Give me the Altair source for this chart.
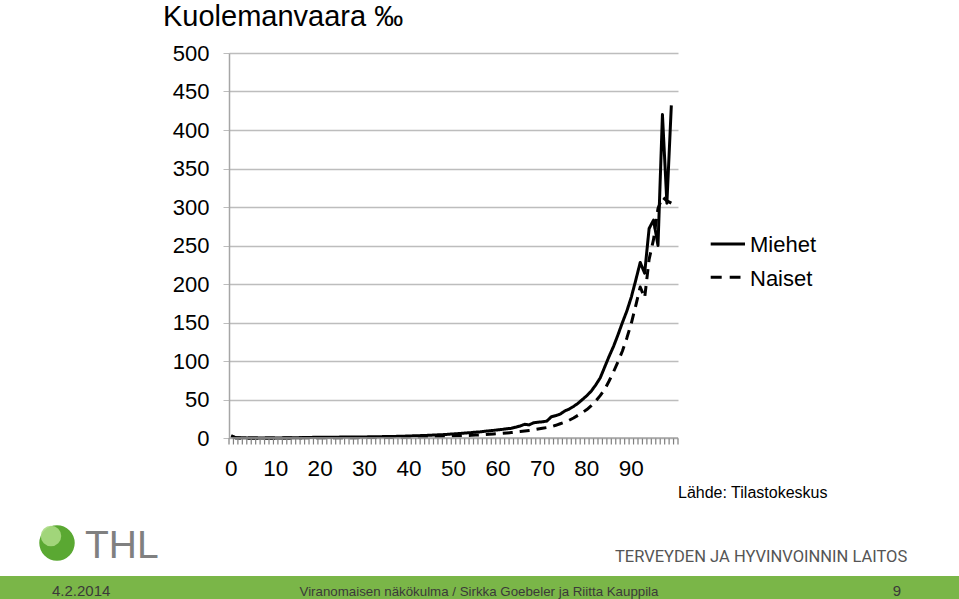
import altair as alt
import pandas as pd

ages = list(range(100))

men = [
    3.0, 0.3, 0.2, 0.2, 0.1, 0.1, 0.1, 0.1, 0.1, 0.1,
    0.1, 0.1, 0.2, 0.2, 0.3, 0.4, 0.5, 0.6, 0.8, 0.9,
    1.0, 1.1, 1.1, 1.1, 1.1, 1.2, 1.2, 1.3, 1.3, 1.4,
    1.4, 1.5, 1.6, 1.7, 1.8, 1.9, 2.0, 2.1, 2.3, 2.4,
    2.6, 2.8, 3.0, 3.2, 3.4, 3.7, 4.0, 4.2, 4.5, 4.9,
    5.3, 5.7, 6.1, 6.6, 7.0, 7.6, 8.0, 8.7, 9.3, 9.9,
    10.6, 11.2, 12.0, 12.6, 14.0, 15.6, 17.8, 17.0, 19.8, 20.5,
    21.0, 22.0, 27.5, 29.0, 31.0, 35.0, 37.5, 41.0, 45.0, 50.0,
    55.0, 61.0, 69.0, 78.0, 92.0, 106.0, 119.0, 134.0, 150.0, 165.0,
    183.0, 205.0, 228.0, 214.0, 272.0, 283.0, 250.0, 420.0, 305.0, 432.0,
]

women = [
    2.5, 0.2, 0.1, 0.1, 0.1, 0.1, 0.1, 0.1, 0.1, 0.1,
    0.1, 0.1, 0.1, 0.1, 0.1, 0.2, 0.2, 0.3, 0.3, 0.3,
    0.3, 0.3, 0.3, 0.3, 0.3, 0.4, 0.4, 0.4, 0.4, 0.5,
    0.5, 0.5, 0.6, 0.6, 0.7, 0.7, 0.8, 0.9, 1.0, 1.1,
    1.2, 1.3, 1.4, 1.5, 1.6, 1.8, 2.0, 2.1, 2.3, 2.5,
    2.7, 2.9, 3.1, 3.3, 3.5, 3.8, 4.1, 4.4, 4.8, 5.2,
    5.6, 6.0, 6.5, 7.0, 7.6, 8.3, 9.0, 9.8, 10.6, 11.6,
    12.6, 13.6, 14.7, 16.5, 18.5, 20.5, 23.0, 26.0, 29.5, 33.0,
    37.0, 42.0, 48.0, 55.0, 63.0, 74.0, 86.0, 99.0, 113.0, 130.0,
    149.0, 172.0, 196.0, 182.0, 232.0, 258.0, 298.0, 313.0, 308.0, 305.0,
]

series = ["Miehet", "Naiset"]
y_ticks = list(range(0, 501, 50))
category_edges = [k - 0.5 for k in range(102)]
x_label_ages = list(range(0, 91, 10))

title_text = "Kuolemanvaara ‰"
source_text = "Lähde: Tilastokeskus"
org_text = "TERVEYDEN JA HYVINVOINNIN LAITOS"
logo_text = "THL"
footer_date = "4.2.2014"
footer_title = "Viranomaisen näkökulma / Sirkka Goebeler ja Riitta Kauppila"
footer_page = "9"

df = pd.DataFrame(
    {
        "age": ages * 2,
        "rate": men + women,
        "sex": [series[0]] * len(ages) + [series[1]] * len(ages),
    }
)
edges_df = pd.DataFrame({"edge": category_edges})
labels_df = pd.DataFrame({"lab": x_label_ages})

FONT = "Liberation Sans"
one = pd.DataFrame({"k": [0]})

x_scale = alt.Scale(domain=[-0.5, 100.5], nice=False, zero=False)

y_enc = alt.Y(
    "rate:Q",
    scale=alt.Scale(domain=[0, 500], nice=False),
    axis=alt.Axis(
        values=y_ticks,
        tickSize=6,
        tickColor="#bdbdbd",
        domainColor="#a6a6a6",
        domainWidth=1.5,
        gridColor="#bdbdbd",
        gridWidth=1.5,
        labelFontSize=22,
        labelFont=FONT,
        labelColor="black",
        labelPadding=14,
        title=None,
    ),
)

lines = (
    alt.Chart(df)
    .mark_line(color="black", strokeWidth=3, strokeJoin="round")
    .encode(
        x=alt.X("age:Q", scale=x_scale, axis=None),
        y=y_enc,
        strokeDash=alt.StrokeDash(
            "sex:N",
            scale=alt.Scale(domain=series, range=[[1, 0], [10, 7]]),
            legend=None,
        ),
    )
)

x_domain_line = (
    alt.Chart(one)
    .mark_rule(color="#a6a6a6", strokeWidth=1.5)
    .encode(x=alt.value(0), x2=alt.value(449), y=alt.value(385))
)

ticks = (
    alt.Chart(edges_df)
    .mark_rule(color="#7f7f7f", strokeWidth=1.2, opacity=1)
    .encode(x=alt.X("edge:Q", scale=x_scale, axis=None), y=alt.value(385.5), y2=alt.value(391.5))
)

x_labels = (
    alt.Chart(labels_df)
    .mark_text(fontSize=22.5, font=FONT, color="black", align="center", baseline="alphabetic")
    .encode(
        x=alt.X("lab:Q", scale=x_scale, axis=None),
        y=alt.value(423),
        text=alt.Text("lab:Q", format="d"),
    )
)

def txt(text, x, y, size, color="black", font=FONT, align="left", weight="normal"):
    return (
        alt.Chart(one)
        .mark_text(
            text=text,
            fontSize=size,
            font=font,
            color=color,
            align=align,
            baseline="alphabetic",
            fontWeight=weight,
        )
        .encode(x=alt.value(x), y=alt.value(y))
    )

title = txt(title_text, -66, -27, 29)

leg_solid = (
    alt.Chart(one)
    .mark_rule(color="black", strokeWidth=3)
    .encode(x=alt.value(481.7), x2=alt.value(516), y=alt.value(191))
)
leg_dash = (
    alt.Chart(one)
    .mark_rule(color="black", strokeWidth=3, strokeDash=[11, 8])
    .encode(x=alt.value(481.7), x2=alt.value(511.5), y=alt.value(224.3))
)
leg_t1 = txt(series[0], 521, 199, 22)
leg_t2 = txt(series[1], 521, 232.5, 22)

source = txt(source_text, 449, 445, 16)

footer_bar = (
    alt.Chart(one)
    .mark_rect(color="#7ab648")
    .encode(x=alt.value(-229), x2=alt.value(730), y=alt.value(523), y2=alt.value(546))
)
f1 = txt(footer_date, -177, 543, 15, color="#3a3a3a")
f2 = txt(footer_title, 250, 543, 13.3, color="#3a3a3a", align="center")
f3 = txt(footer_page, 668, 543, 15, color="#3a3a3a", align="center")

org = txt(org_text, 386, 509, 16.5, color="#555555", font="Roboto")
logo = txt(logo_text, -144, 505, 39, color="#808080")

sphere = (
    alt.Chart(one)
    .mark_point(filled=True, size=1257, color="#5aa832", opacity=1)
    .encode(x=alt.value(-172), y=alt.value(490))
)
sphere_hi = (
    alt.Chart(one)
    .mark_point(filled=True, size=420, color="#a9d982", opacity=0.9)
    .encode(x=alt.value(-178), y=alt.value(483))
)

chart = (
    alt.layer(
        lines, x_domain_line, title, leg_solid, leg_dash,
        leg_t1, leg_t2, source, footer_bar, f1, f2, f3, org, logo,
        sphere, sphere_hi, x_labels, ticks,
    )
    .properties(
        width=449,
        height=385,
        autosize="none",
        padding={"left": 229, "top": 53, "right": 281, "bottom": 161},
        background="white",
    )
    .configure_view(stroke=None)
)

chart.save("out.html", embed_options={"renderer": "svg", "actions": False})
